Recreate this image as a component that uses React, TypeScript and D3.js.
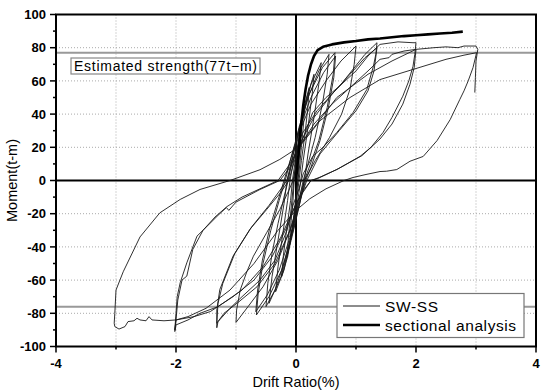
import React from "react";
import * as d3 from "d3";

const xMajorTicks = [-4, -2, 0, 2, 4];
const xMinorTicks = [-3, -1, 1, 3];
const yMajorTicks = [-100, -80, -60, -40, -20, 0, 20, 40, 60, 80, 100];
const yMinorTicks = [-90, -70, -50, -30, -10, 10, 30, 50, 70, 90];
const xGrid = [-3, -2, -1, 1, 2, 3];
const yGrid = [-80, -60, -40, -20, 20, 40, 60, 80];
const strengthLines = [77, -76];

const sectionalDrift = [0, 0.04, 0.08, 0.12, 0.16, 0.2, 0.25, 0.3, 0.36, 0.45, 0.6, 0.8, 1.0, 1.2, 1.4, 1.6, 1.8, 2.0, 2.2, 2.4, 2.6, 2.78];
const sectionalMoment = [0, 15, 32, 45, 55, 63, 70, 75, 78.5, 80.5, 82, 83.2, 84, 85, 85.5, 86.3, 87, 87.5, 88, 88.6, 89, 89.7];

const swssLoops: [number, number][][] = [
  [[0,0],[0.03,12],[0.06,24],[0.09,33],[0.1,35],[0.08,25],[0.05,12],[0.03,0],[0.0,-12],[-0.04,-24],[-0.08,-32],[-0.1,-34],[-0.08,-24],[-0.05,-12],[-0.03,0]],
  [[-0.03,0],[0.0,10],[0.05,25],[0.1,38],[0.15,46],[0.13,36],[0.09,20],[0.05,5],[0.03,0],[0,-10],[-0.05,-25],[-0.1,-38],[-0.15,-46],[-0.13,-36],[-0.09,-20],[-0.05,-5],[-0.04,0]],
  [[-0.04,0],[0,12],[0.07,30],[0.14,45],[0.22,56],[0.2,45],[0.15,28],[0.09,12],[0.05,0],[0.01,-12],[-0.06,-30],[-0.14,-46],[-0.24,-58],[-0.21,-45],[-0.15,-28],[-0.09,-12],[-0.06,0]],
  [[-0.06,0],[0,15],[0.08,32],[0.18,50],[0.3,64],[0.27,52],[0.2,32],[0.12,12],[0.08,0],[0.02,-14],[-0.08,-34],[-0.2,-54],[-0.34,-67],[-0.3,-52],[-0.22,-32],[-0.14,-12],[-0.1,0]],
  [[-0.1,0],[-0.02,16],[0.1,38],[0.25,58],[0.42,71],[0.38,58],[0.3,38],[0.2,16],[0.14,0],[0.05,-16],[-0.08,-36],[-0.25,-58],[-0.45,-74],[-0.4,-58],[-0.3,-36],[-0.2,-14],[-0.15,0]],
  [[-0.15,0],[-0.06,14],[0.05,30],[0.2,50],[0.38,66],[0.55,76],[0.52,64],[0.44,46],[0.32,26],[0.2,10],[0.12,0],[0.04,-14],[-0.06,-30],[-0.2,-50],[-0.35,-66],[-0.5,-76],[-0.47,-62],[-0.4,-44],[-0.3,-26],[-0.2,-10],[-0.13,0]],
  [[-0.13,0],[-0.05,15],[0.05,32],[0.22,52],[0.44,68],[0.65,77],[0.62,64],[0.52,44],[0.38,24],[0.22,8],[0.14,0],[0.05,-15],[-0.06,-32],[-0.24,-54],[-0.45,-70],[-0.66,-81],[-0.63,-68],[-0.55,-50],[-0.42,-30],[-0.28,-12],[-0.18,0]],
  [[-0.18,0],[-0.08,14],[0.04,30],[0.25,50],[0.46,65],[0.66,75],[0.63,62],[0.54,44],[0.4,24],[0.25,8],[0.16,0],[0.06,-14],[-0.08,-32],[-0.28,-54],[-0.48,-69],[-0.67,-79],[-0.64,-66],[-0.56,-48],[-0.44,-29],[-0.3,-12],[-0.2,0]],
  [[-0.2,0],[-0.08,14],[0.04,28],[0.25,46],[0.5,60],[0.75,72],[1.0,81],[0.97,70],[0.9,55],[0.76,40],[0.56,26],[0.32,12],[0.14,0],[0.04,-12],[-0.08,-28],[-0.3,-48],[-0.55,-64],[-0.8,-76],[-1.0,-85.5],[-0.99,-78],[-0.93,-66],[-0.82,-55],[-0.71,-45.6],[-0.49,-31.5],[-0.27,-17.5],[-0.12,-6],[-0.05,0]],
  [[-0.05,0],[0.0,8],[0.08,22],[0.28,41],[0.5,50],[0.73,57],[0.95,67],[1.15,76],[1.35,83],[1.33,76],[1.29,68.8],[1.18,54.8],[0.95,40.9],[0.68,28.9],[0.45,20],[0.28,14.6],[0.12,4],[0.05,-5],[-0.05,-15],[-0.15,-30],[-0.35,-48],[-0.6,-60],[-0.9,-70],[-1.1,-77],[-1.3,-85],[-1.32,-88.7],[-1.32,-78],[-1.27,-65.7],[-1.05,-45.6],[-0.77,-29.5],[-0.49,-17.5],[-0.25,-7],[-0.12,0]],
  [[-0.12,0],[-0.04,10],[0.06,22],[0.3,38],[0.6,52],[0.9,64],[1.15,74],[1.35,80],[1.3,66],[1.2,54],[1.0,42],[0.72,30],[0.4,16],[0.18,0],[0.06,-12],[-0.1,-30],[-0.35,-50],[-0.65,-64],[-0.95,-73],[-1.2,-80],[-1.32,-86],[-1.3,-74],[-1.22,-62],[-1.02,-44],[-0.74,-28],[-0.45,-15],[-0.15,0]],
  [[-0.15,0],[-0.05,12],[0.1,28],[0.35,42],[0.7,56],[1.0,66],[1.2,75],[1.4,82],[1.7,83.5],[1.95,83],[2.0,83],[1.98,76],[1.95,68.8],[1.88,60],[1.78,50.8],[1.6,38],[1.45,28.9],[1.25,20],[1.07,14.6],[0.68,6.6],[0.4,2],[0.25,0],[0.1,-8],[0,-14],[-0.15,-28],[-0.4,-46],[-0.7,-60],[-1.05,-70],[-1.43,-79],[-1.7,-82],[-2.0,-84],[-2.02,-90],[-2.0,-80],[-1.98,-70],[-1.93,-61.6],[-1.82,-49.6],[-1.65,-33.5],[-1.48,-27.5],[-1.3,-21],[-1.16,-16.3],[-1.12,-18],[-1.0,-13],[-0.6,-5.4],[-0.27,0]],
  [[-0.27,0],[-0.1,8],[0.05,20],[0.3,34],[0.6,46],[0.9,56],[1.2,66],[1.4,73],[1.55,74],[1.6,76],[1.8,78],[2.0,79],[1.97,68],[1.9,58],[1.78,46],[1.6,34],[1.4,25],[1.1,15],[0.7,7],[0.35,1],[0.25,0],[0.1,-7],[-0.05,-18],[-0.25,-34],[-0.55,-52],[-0.9,-66],[-1.3,-76],[-1.6,-80],[-1.8,-84],[-2.0,-87],[-2.02,-91],[-2.0,-84],[-1.97,-72],[-1.9,-60],[-1.82,-57.6],[-1.72,-41.5],[-1.55,-30],[-1.35,-22],[-1.15,-15.7],[-0.9,-10],[-0.6,-5],[-0.3,0]],
  [[-0.3,0],[-0.1,10],[0.05,20],[0.4,36],[0.9,50],[1.4,60.8],[1.95,66.9],[2.5,73],[2.8,75.5],[3.01,77],[2.95,68],[2.87,60],[2.8,54],[2.73,48.8],[2.57,36.7],[2.35,24],[2.12,14.5],[1.9,11.6],[1.68,6.6],[1.51,5.6],[1.4,5.4],[1.15,3.5],[0.95,1.8],[0.8,0],[0.5,-5],[0.23,-11],[0,-18],[-0.3,-30],[-0.7,-50],[-1.1,-66],[-1.5,-77],[-1.8,-82],[-2.0,-84],[-2.2,-84.5],[-2.4,-84],[-2.45,-82],[-2.5,-84.5],[-2.6,-84],[-2.65,-83],[-2.7,-84.5],[-2.8,-85],[-2.85,-88],[-2.95,-89.5],[-3.02,-88],[-3.03,-86],[-3.02,-80],[-3.0,-66],[-2.88,-55],[-2.6,-34],[-2.27,-19.5],[-1.93,-11.4],[-1.6,-5.4],[-1.1,0],[-0.6,6.5],[-0.27,12.7],[0,19],[0.3,32],[0.68,50],[1.2,64],[1.6,72],[2.0,79],[2.3,80],[2.5,80.5],[2.7,80],[2.8,81],[3.0,81],[3.03,79],[3.0,72],[2.99,62],[2.98,53]],
];

const FONT = "'Liberation Sans', Arial, sans-serif";

export default function App() {
  const W = 542, H = 392;
  const x = d3.scaleLinear().domain([-4, 4]).range([56, 536]);
  const y = d3.scaleLinear().domain([-100, 100]).range([346.5, 14.5]);
  const line = d3.line<[number, number]>().x(d => x(d[0])).y(d => y(d[1]));
  const swss: [number, number][] = swssLoops.flat();
  const sectional: [number, number][] = sectionalDrift.map((d, i) => [d, sectionalMoment[i]]);
  const [x0, x1] = x.range();
  const [yb, yt] = y.range();

  return (
    <svg width={W} height={H} style={{ position: "absolute", left: 0, top: 0, background: "#fff" }} fontFamily={FONT}>
      <rect x={0} y={0} width={W} height={H} fill="#fff" />
      {xGrid.map(v => (
        <line key={"gx" + v} x1={x(v)} x2={x(v)} y1={yt} y2={yb} stroke="#aaa" strokeWidth={1} strokeDasharray="1 2" />
      ))}
      {yGrid.map(v => (
        <line key={"gy" + v} x1={x0} x2={x1} y1={y(v)} y2={y(v)} stroke="#aaa" strokeWidth={1} strokeDasharray="1 2" />
      ))}
      {strengthLines.map(v => (
        <line key={"s" + v} x1={x0} x2={x1} y1={y(v)} y2={y(v)} stroke="#999" strokeWidth={2} />
      ))}
      <line x1={x(0)} x2={x(0)} y1={yt} y2={yb} stroke="#000" strokeWidth={2} />
      <line x1={x0} x2={x1} y1={y(0)} y2={y(0)} stroke="#000" strokeWidth={2} />
      <path d={line(swss) || ""} fill="none" stroke="#1a1a1a" strokeWidth={0.9} strokeLinejoin="round" />
      <path d={line(sectional) || ""} fill="none" stroke="#000" strokeWidth={2.6} strokeLinejoin="round" />
      <rect x={x0} y={yt} width={x1 - x0} height={yb - yt} fill="none" stroke="#000" strokeWidth={2} />
      {yMajorTicks.map(v => (
        <g key={"yt" + v}>
          <line x1={x0 - 6} x2={x0} y1={y(v)} y2={y(v)} stroke="#000" strokeWidth={1.5} />
          <text x={x0 - 10} y={y(v)} dy="0.36em" textAnchor="end" fontSize={13} fontWeight="bold">{v}</text>
        </g>
      ))}
      {yMinorTicks.map(v => (
        <line key={"ym" + v} x1={x0 - 3} x2={x0} y1={y(v)} y2={y(v)} stroke="#000" strokeWidth={1.5} />
      ))}
      {xMajorTicks.map(v => (
        <g key={"xt" + v}>
          <line x1={x(v)} x2={x(v)} y1={yb} y2={yb + 6} stroke="#000" strokeWidth={1.5} />
          <text x={x(v)} y={yb + 21} textAnchor="middle" fontSize={13} fontWeight="bold">{v}</text>
        </g>
      ))}
      {xMinorTicks.map(v => (
        <line key={"xm" + v} x1={x(v)} x2={x(v)} y1={yb} y2={yb + 3} stroke="#000" strokeWidth={1.5} />
      ))}
      <text x={(x0 + x1) / 2} y={387} textAnchor="middle" fontSize={14.5}>Drift Ratio(%)</text>
      <text transform={`translate(17,${(yt + yb) / 2}) rotate(-90)`} textAnchor="middle" fontSize={14.5}>Moment(t-m)</text>
      <rect x={71} y={58} width={189} height={16} fill="#fff" stroke="#888" strokeWidth={1.2} />
      <text x={74} y={71} fontSize={14} textLength={183} lengthAdjust="spacing">Estimated strength(77t−m)</text>
      <rect x={337} y={293.5} width={187} height={44} fill="#fff" stroke="#777" strokeWidth={1.2} />
      <line x1={343} x2={380} y1={306} y2={306} stroke="#000" strokeWidth={0.9} />
      <text x={385} y={311.5} fontSize={15.5} textLength={53} lengthAdjust="spacing">SW-SS</text>
      <line x1={343} x2={380} y1={325} y2={325} stroke="#000" strokeWidth={2.6} />
      <text x={385} y={330.5} fontSize={15.5} textLength={131} lengthAdjust="spacing">sectional analysis</text>
    </svg>
  );
}
